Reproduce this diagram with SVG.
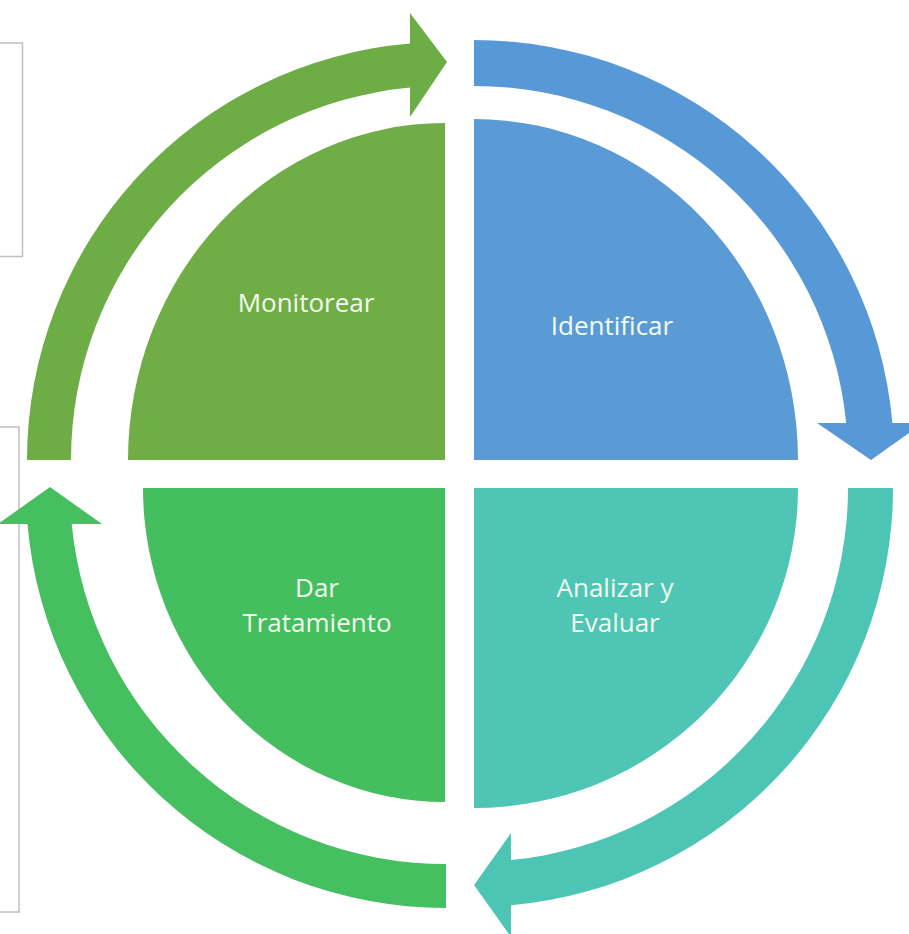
<svg xmlns="http://www.w3.org/2000/svg" width="909" height="934" viewBox="0 0 909 934">
<style>
.lbl{font-family:"Open Sans","Liberation Sans",sans-serif;font-size:26px;fill:#F2FBEF;text-anchor:middle}
.box{fill:none;stroke:#BFBFBF;stroke-width:1.5}
</style>
<rect width="909" height="934" fill="#FFFFFF"/>
<g id="side-boxes">
<rect class="box" x="-5" y="43" width="27.5" height="213.5"/>
<rect class="box" x="-5" y="427" width="24" height="485"/>
</g>
<g id="connectors">
<path id="arrow-monitorear-identificar" fill="#6EAD45" d="M 27,460 A 418 418 0 0 1 410,43.5 L 410,13 L 447,62 L 410,117 L 410,87.6 A 374 374 0 0 0 71,460 Z"/>
<path id="arrow-identificar-analizar" fill="#5799D6" d="M 474,40 A 420 420 0 0 1 892.4,423 L 923,423 L 871,460 L 817,423 L 846.2,423 A 374 374 0 0 0 474,86 Z"/>
<path id="arrow-analizar-tratamiento" fill="#4CC5B4" d="M 893,488 A 419 419 0 0 1 511,905.3 L 511,937 L 474,885 L 511,833 L 511,860.1 A 374 374 0 0 0 848,488 Z"/>
<path id="arrow-tratamiento-monitorear" fill="#45BF5F" d="M 446,908 A 420 420 0 0 1 27.5,524 L -2,524 L 50,487 L 102,524 L 71.7,524 A 376 376 0 0 0 446,864 Z"/>
</g>
<g id="monitorear">
<path fill="#70AD47" d="M 445,460 L 128,460 A 317 337 0 0 1 445,123 Z"/>
<text class="lbl" x="306" y="312">Monitorear</text>
</g>
<g id="identificar">
<path fill="#5B9BD5" d="M 474,460 L 474,119 A 324 341 0 0 1 798,460 Z"/>
<text class="lbl" x="612" y="335">Identificar</text>
</g>
<g id="analizar">
<path fill="#4EC5B5" d="M 474,488 L 798,488 A 324 320 0 0 1 474,808 Z"/>
<text class="lbl" x="615" y="597">Analizar y</text>
<text class="lbl" x="615" y="632">Evaluar</text>
</g>
<g id="tratamiento">
<path fill="#45BE5F" d="M 445,488 L 445,802 A 302 314 0 0 1 143,488 Z"/>
<text class="lbl" x="317" y="597">Dar</text>
<text class="lbl" x="317" y="632">Tratamiento</text>
</g>
</svg>
